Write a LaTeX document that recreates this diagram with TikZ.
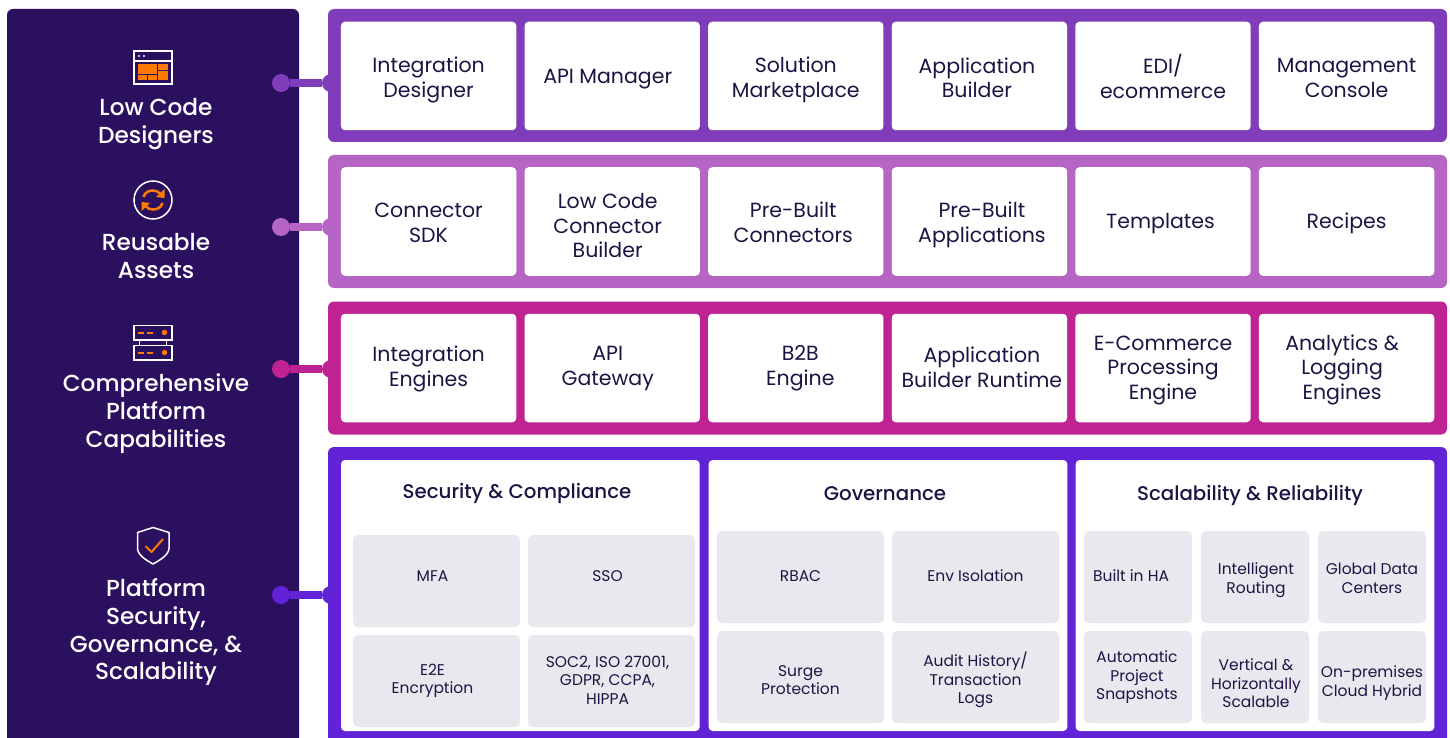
\documentclass[tikz,border=0pt]{standalone}
\usepackage{fontspec}
\setmainfont{Poppins}
\newfontfamily\mediumfont{Poppins Medium}
\usetikzlibrary{arrows.meta,positioning}
\definecolor{sideBg}{HTML}{2C1060}
\definecolor{designerCol}{HTML}{803DBB}
\definecolor{assetCol}{HTML}{B765C5}
\definecolor{engineCol}{HTML}{BF2393}
\definecolor{securityCol}{HTML}{6222D6}
\definecolor{tileCol}{HTML}{EAE7EE}
\definecolor{inkCol}{HTML}{1E1444}
\definecolor{accentCol}{HTML}{FF7A00}

\begin{document}
\begin{tikzpicture}
	[ x=1pt,y=-1pt,
		node distance=8.3pt,
		struts/.style={execute at begin node=\strut,execute at end node=\strut},
		panel/.style={rectangle,rounded corners=6pt,inner sep=0pt,outer sep=0pt,minimum width=1119pt,minimum height=133pt},
		cardText/.style={struts,inner sep=0pt,text=inkCol,align=center,font=\fontsize{20.5}{24.5}\selectfont},
		card/.style={cardText,rectangle,fill=white,rounded corners=4pt,outer sep=0pt,minimum width=175.3pt,minimum height=108.5pt},
		bigCard/.style={card,minimum width=358.6pt,minimum height=271pt},
		heading/.style={inner sep=0pt,text=inkCol,font=\mediumfont\fontsize{19.8}{24}\selectfont,text height=15pt,text depth=5pt},
		tileText/.style={struts,inner sep=0pt,text=inkCol,align=center,font=\fontsize{15.5}{18.5}\selectfont},
		tile/.style={tileText,rectangle,fill=tileCol,rounded corners=5pt,outer sep=0pt,minimum width=167pt,minimum height=92pt},
		narrowTile/.style={tile,minimum width=108pt},
		sideText/.style={struts,inner sep=0pt,text=white,align=center,font=\mediumfont\fontsize{23.2}{27.8}\selectfont},
		dot/.style={circle,inner sep=0pt,outer sep=0pt,minimum size=18pt},
		link/.style={line width=8pt},
		iconLine/.style={draw=white,line width=1.5pt},
		iconAccent/.style={draw=accentCol,line width=2pt}]

	\useasboundingbox (0,0) rectangle (1450,738);

	% left column
	\node[rectangle,fill=sideBg,rounded corners=6pt,inner sep=0pt,minimum width=292pt,minimum height=745pt] (side) at (153,381.5) {};
	\node[sideText] (lowCode) at (156,125) {Low Code\\Designers};
	\node[sideText] (reusable) at (156,260) {Reusable\\Assets};
	\node[sideText] (comprehensive) at (156,415) {Comprehensive\\Platform\\Capabilities};
	\node[sideText] (platform) at (156,633.5) {Platform\\Security,\\Governance, \&\\Scalability};

	% connectors, drawn below the panels
	\node[dot,fill=designerCol] (dotDesigner) at (281,83) {};
	\node[dot,fill=designerCol] (tabDesigner) at (331,83) {};
	\draw[link,designerCol] (dotDesigner) -- (tabDesigner);
	\node[dot,fill=assetCol] (dotAsset) at (281,227) {};
	\node[dot,fill=assetCol] (tabAsset) at (331,227) {};
	\draw[link,assetCol] (dotAsset) -- (tabAsset);
	\node[dot,fill=engineCol] (dotEngine) at (281,369) {};
	\node[dot,fill=engineCol] (tabEngine) at (331,369) {};
	\draw[link,engineCol] (dotEngine) -- (tabEngine);
	\node[dot,fill=securityCol] (dotSecurity) at (281,595) {};
	\node[dot,fill=securityCol] (tabSecurity) at (331,595) {};
	\draw[link,securityCol] (dotSecurity) -- (tabSecurity);

	% panels
	\node[panel,fill=designerCol] (designerPanel) at (887.5,75.5) {};
	\node[panel,fill=assetCol] (assetPanel) at (887.5,221.5) {};
	\node[panel,fill=engineCol] (enginePanel) at (887.5,368) {};
	\node[panel,fill=securityCol,minimum height=305pt] (securityPanel) at (887.5,599.5) {};

	% row 1
	\node[card] (integrationDesigner) at (428.6,76) {};
	\node[cardText,yshift=-5pt] (integrationDesignerText) at (integrationDesigner) {Integration\\Designer};
	\node[card] (apiManager) [right=of integrationDesigner] {};
	\node[cardText,xshift=-4.5pt,yshift=-3pt] (apiManagerText) at (apiManager) {API Manager};
	\node[card] (marketplace) [right=of apiManager] {};
	\node[cardText,yshift=-5pt] (marketplaceText) at (marketplace) {Solution\\Marketplace};
	\node[card] (appBuilder) [right=of marketplace] {};
	\node[cardText,xshift=-2.5pt,yshift=-5.5pt] (appBuilderText) at (appBuilder) {Application\\Builder};
	\node[card] (edi) [right=of appBuilder] {};
	\node[cardText,yshift=-4pt] (ediText) at (edi) {EDI/\\ecommerce};
	\node[card] (console) [right=of edi] {};
	\node[cardText,yshift=-5.5pt] (consoleText) at (console) {Management\\Console};

	% row 2
	\node[card] (connectorSdk) at (428.6,221.5) {};
	\node[cardText,yshift=-5pt] (connectorSdkText) at (connectorSdk) {Connector\\SDK};
	\node[card] (connectorBuilder) [right=of connectorSdk] {};
	\node[cardText,xshift=-4.5pt,yshift=-8pt] (connectorBuilderText) at (connectorBuilder) {Low Code\\Connector\\Builder};
	\node[card] (preConnectors) [right=of connectorBuilder] {};
	\node[cardText,xshift=-2.5pt,yshift=-4.5pt] (preConnectorsText) at (preConnectors) {Pre-Built\\Connectors};
	\node[card] (preApps) [right=of preConnectors] {};
	\node[cardText,xshift=2.5pt,yshift=-4.5pt] (preAppsText) at (preApps) {Pre-Built\\Applications};
	\node[card] (templates) [right=of preApps] {};
	\node[cardText,xshift=-2.5pt,yshift=-2.5pt] (templatesText) at (templates) {Templates};
	\node[card] (recipes) [right=of templates] {};
	\node[cardText,yshift=-2.5pt] (recipesText) at (recipes) {Recipes};

	% row 3
	\node[card] (integrationEngines) at (428.6,368) {};
	\node[cardText,yshift=-2pt] (integrationEnginesText) at (integrationEngines) {Integration\\Engines};
	\node[card] (apiGateway) [right=of integrationEngines] {};
	\node[cardText,xshift=-4.5pt,yshift=-1.5pt] (apiGatewayText) at (apiGateway) {API\\Gateway};
	\node[card] (b2bEngine) [right=of apiGateway] {};
	\node[cardText,xshift=4.5pt,yshift=-1pt] (b2bEngineText) at (b2bEngine) {B2B\\Engine};
	\node[card] (builderRuntime) [right=of b2bEngine] {};
	\node[cardText,xshift=2.5pt,yshift=-3pt] (builderRuntimeText) at (builderRuntime) {Application\\Builder Runtime};
	\node[card] (commerceEngine) [right=of builderRuntime] {};
	\node[cardText,yshift=-3pt] (commerceEngineText) at (commerceEngine) {E-Commerce\\Processing\\Engine};
	\node[card] (analytics) [right=of commerceEngine] {};
	\node[cardText,xshift=-4.5pt,yshift=-2.5pt] (analyticsText) at (analytics) {Analytics \&\\Logging\\Engines};

	% bottom row
	\node[bigCard] (securityCard) at (520.3,595.5) {};
	\node[bigCard] (governanceCard) at (888,595.5) {};
	\node[bigCard] (scaleCard) at (1255,595.5) {};
	\node[heading] (securityHead) at (517,493) {Security \& Compliance};
	\node[heading] (governanceHead) at (885,495) {Governance};
	\node[heading] (scaleHead) at (1250,495) {Scalability \& Reliability};

	\node[tile] (mfa) at (436.5,581) {};
	\node[tileText,xshift=-4pt,yshift=3pt] (mfaText) at (mfa) {MFA};
	\node[tile] (sso) [right=8pt of mfa] {};
	\node[tileText,xshift=-4pt,yshift=3pt] (ssoText) at (sso) {SSO};
	\node[tile] (e2e) [below=8pt of mfa] {};
	\node[tileText,xshift=-4pt,yshift=-0.5pt] (e2eText) at (e2e) {E2E\\Encryption};
	\node[tile] (soc) [right=8pt of e2e] {};
	\node[tileText,xshift=-4pt,yshift=-2pt] (socText) at (soc) {SOC2, ISO 27001,\\GDPR, CCPA,\\HIPPA};

	\node[tile] (rbac) at (800.5,577) {};
	\node[tileText,yshift=-1pt] (rbacText) at (rbac) {RBAC};
	\node[tile] (envIsolation) [right=8pt of rbac] {};
	\node[tileText,yshift=-1pt] (envIsolationText) at (envIsolation) {Env Isolation};
	\node[tile] (surge) [below=8pt of rbac] {};
	\node[tileText,yshift=-6pt] (surgeText) at (surge) {Surge\\Protection};
	\node[tile] (audit) [right=8pt of surge] {};
	\node[tileText,yshift=-3.5pt] (auditText) at (audit) {Audit History/\\Transaction\\Logs};

	\node[narrowTile] (builtIn) at (1138,577) {};
	\node[tileText,xshift=-7pt,yshift=-1pt] (builtInText) at (builtIn) {Built in HA};
	\node[narrowTile] (routing) [right=9pt of builtIn] {};
	\node[tileText,xshift=1pt,yshift=-4pt] (routingText) at (routing) {Intelligent\\Routing};
	\node[narrowTile] (dataCenters) [right=9pt of routing] {};
	\node[tileText,yshift=-4pt] (dataCentersText) at (dataCenters) {Global Data\\Centers};
	\node[narrowTile] (snapshots) [below=8pt of builtIn] {};
	\node[tileText,xshift=-1pt,yshift=-1pt] (snapshotsText) at (snapshots) {Automatic\\Project\\Snapshots};
	\node[narrowTile] (verticalScale) [right=9pt of snapshots] {};
	\node[tileText,xshift=1pt,yshift=-9pt] (verticalScaleText) at (verticalScale) {Vertical \&\\Horizontally\\Scalable};
	\node[narrowTile] (hybrid) [right=9pt of verticalScale] {};
	\node[tileText,yshift=-7pt] (hybridText) at (hybrid) {On-premises\\Cloud Hybrid};

	% icon: window
	\fill[accentCol] (138,64) rectangle (157,74.5);
	\fill[accentCol] (158,64) rectangle (168,70);
	\fill[accentCol] (158,71) rectangle (168,80);
	\fill[accentCol] (138,75.5) rectangle (147,80);
	\fill[accentCol] (148,75.5) rectangle (157,80);
	\draw[iconLine] (134,51) rectangle (172,84);
	\draw[iconLine] (134,61) -- (172,61);
	\fill[white] (139,56) circle (1.2);
	\fill[white] (144,56) circle (1.2);

	% icon: refresh
	\draw[iconLine] (153,200) circle (19);
	\draw[iconAccent,line width=2.5pt] (143.5,197) .. controls (145,192) and (149,190.5) .. (153,190.5) .. controls (156,190.5) and (158.5,191.5) .. (160.5,194);
	\draw[iconAccent,line width=2.5pt] (162.5,203) .. controls (161,208) and (157,209.5) .. (153,209.5) .. controls (150,209.5) and (147.5,208.5) .. (145.5,206);
	\fill[accentCol] (164.5,189) -- (164.5,198) -- (156,197) -- cycle;
	\fill[accentCol] (141.5,211) -- (141.5,202) -- (150,203) -- cycle;

	% icon: server
	\draw[iconLine] (134,325.5) rectangle (172,340);
	\draw[iconLine] (134,345.5) rectangle (172,360);
	\draw[iconLine] (139.5,340) -- (139.5,345.5);
	\draw[iconLine] (166.5,340) -- (166.5,345.5);
	\draw[iconAccent] (138,332.5) -- (144,332.5);
	\draw[iconAccent] (147,332.5) -- (153,332.5);
	\fill[accentCol] (164.5,332.5) circle (2.7);
	\draw[iconAccent] (138,352.5) -- (144,352.5);
	\draw[iconAccent] (147,352.5) -- (153,352.5);
	\fill[accentCol] (164.5,352.5) circle (2.7);

	% icon: shield
	\draw[iconLine,line join=round] (153,527.5) -- (169,532.5) -- (169,548) .. controls (169,555) and (160,560) .. (153,564)
		.. controls (146,560) and (137.5,555) .. (137.5,548) -- (137.5,532.5) -- cycle;
	\draw[iconAccent,line join=round] (145.5,546) -- (151.5,552) -- (163,539);
\end{tikzpicture}
\end{document}
